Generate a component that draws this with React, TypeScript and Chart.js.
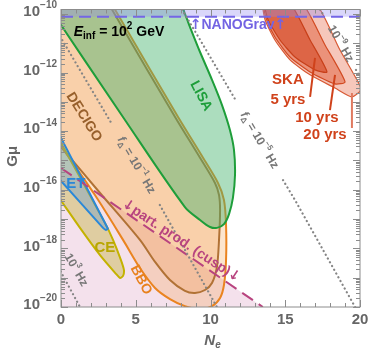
import React, { useEffect, useRef } from 'react';
import { Chart, registerables } from 'chart.js';
Chart.register(...registerables);

// axis ranges (N_e linear, G mu logarithmic, exponents)
const NE_MIN = 0;
const NE_MAX = 20;
const LOG_MIN = -20;
const LOG_MAX = -9.85;
const xTickValues = [0, 5, 10, 15, 20];
const yTickExps = [-20, -18, -16, -14, -12, -10];

// region boundaries: N_e values and log10(G mu) values
const cuspNe = [-1, 13.5, 13.5, -1, -1];
const cuspLogG = [-14.91, -20, -21, -21, -14.91];
const cuspLineNe = [0, 13.5];
const cuspLineLogG = [-15.26, -20];

const decigoNe = [3.01, 3.81, 7.63, 9.3, 10.3, 10.57, 10.64, 10.57, 10.43, 10.1, 9.63, 8.96, 8.29, 7.29, 6.29, 5.28, 2.61, 0, -1, -1, 3.01];
const decigoLogG = [-9.5, -10.2, -13.52, -14.91, -15.77, -16.18, -16.69, -17.71, -18.63, -19.18, -19.42, -19.52, -19.45, -19.08, -18.46, -17.71, -16.11, -14.54, -13.94, -9.5, -9.5];

const bboNe = [3.21, 4.01, 7.83, 9.5, 10.5, 10.9, 11.04, 11.04, 10.9, 10.64, 10.1, 9.3, 8.29, 7.29, 6.29, 5.28, 4.15, 2.27, 0, -1, -1, 3.21];
const bboLogG = [-9.5, -10.2, -13.52, -14.91, -15.77, -16.35, -17.2, -18.4, -19.25, -19.69, -19.97, -20.07, -19.97, -19.73, -19.35, -18.67, -17.71, -16.18, -14.51, -13.77, -9.5, -9.5];

const ceNe = [-1, 0, 2.94, 3.48, 4.01, 4.21, 4.15, 3.95, 3.68, 2.61, 1.27, 0.07, -1, -1];
const ceLogG = [-13.47, -14.4, -17.13, -17.71, -18.4, -18.74, -18.94, -19.01, -18.87, -18.23, -17.3, -16.42, -15.64, -13.47];

const etNe = [-1, 0, 3.08, 3.14, 3.01, 2.81, 0, -1, -1];
const etLogG = [-13.24, -14.23, -17.27, -17.33, -17.37, -17.3, -15.7, -15.13, -13.24];

const lisaNe = [-1.03, 4.28, 8.29, 9.3, 9.97, 10.43, 10.9, 11.24, 11.5, 11.64, 11.57, 11.3, 10.77, 10.1, 9.3, 8.63, 8.29, 7.9, -1.03];
const lisaLogG = [-9.6, -13.62, -16.59, -17.03, -17.27, -17.3, -17.17, -16.83, -16.28, -15.49, -14.64, -13.96, -13.11, -12.25, -11.3, -10.45, -10.0, -9.6, -9.6];

const ska20Ne = [13.4, 16.82, 18.66, 19.87, 20.07, 19.46, 18.33, 16.66, 15.32, 14.31, 13.65, 13.4];
const ska20LogG = [-9.5, -9.5, -11.23, -12.32, -12.59, -12.83, -12.53, -12.08, -11.57, -10.89, -10.2, -9.5];
const ska10Ne = [13.45, 15.93, 17.66, 19.0, 18.33, 16.66, 15.32, 14.31, 13.71, 13.45];
const ska10LogG = [-9.5, -9.5, -11.06, -12.32, -12.39, -11.98, -11.47, -10.79, -10.14, -9.5];
const ska5Ne = [13.5, 15.14, 16.66, 17.79, 16.99, 15.65, 14.65, 13.85, 13.5];
const ska5LogG = [-9.5, -9.5, -10.89, -11.98, -11.91, -11.47, -10.89, -10.2, -9.5];

const ska5PtrNe = [16.99, 16.66];
const ska5PtrLogG = [-11.5, -12.83];
const ska10PtrNe = [18.33, 17.99];
const ska10PtrLogG = [-12.08, -13.28];
const ska20PtrNe = [19.46, 19.46];
const ska20PtrLogG = [-12.7, -13.89];

const nanoNe = [-1, 21, 21, -1, -1];
const nanoLogG = [-10.1, -10.1, -9.5, -9.5, -10.1];
const nanoLineNe = [0, 20];
const nanoLineLogG = [-10.1, -10.1];

// f_Delta contours (NaN = gap for inline label)
const f3Ne = [-0.3, 1.27, 1.45];
const f3LogG = [-18.53, -20, -20.17];
const f1Ne = [-0.5, 0, 3.28, 3.44, NaN, 6.61, 10.43, 10.8];
const f1LogG = [-10.39, -10.82, -13.65, -13.79, NaN, -16.52, -20, -20.34];
const f5Ne = [7.8, 9.23, 11.68, NaN, 14.85, 15.65, 19.67, 20.1];
const f5LogG = [-9.6, -10.82, -12.94, NaN, -15.67, -16.35, -20, -20.4];
const f9Ne = [17.03, 17.59, NaN, 19.73, 20.3];
const f9LogG = [-9.6, -10.07, NaN, -11.91, -12.4];

type Seg = [string, string];
const FONT = '"Liberation Sans", Arial, sans-serif';
const ARROW_FONT = '"DejaVu Sans", sans-serif';

const textLabels: { ne: number; lg: number; ang: number; color: string; size: number; segs: Seg[]; align?: string }[] = [
  { ne: 0.85, lg: -10.62, ang: 0, color: '#000', size: 14, align: 'left', segs: [['E', 'i'], ['inf', 'sub'], [' = 10', 'n'], ['2', 'sup'], [' GeV', 'n']] },
  { ne: 11.84, lg: -10.38, ang: 0, color: '#7363e3', size: 14, segs: [['↑', 'a'], ['NANOGrav', 'n'], ['↑', 'a']] },
  { ne: 9.36, lg: -12.8, ang: 62, color: '#1e9e3a', size: 14, segs: [['LISA', 'n']] },
  { ne: 1.54, lg: -13.52, ang: 58, color: '#98602c', size: 14, segs: [['DECIGO', 'n']] },
  { ne: 1.0, lg: -15.8, ang: 0, color: '#2a88d8', size: 15, segs: [['ET', 'n']] },
  { ne: 2.94, lg: -17.99, ang: 0, color: '#b8a600', size: 15, segs: [['CE', 'n']] },
  { ne: 5.35, lg: -19.08, ang: 62, color: '#e8821e', size: 14, segs: [['BBO', 'n']] },
  { ne: 8.03, lg: -17.75, ang: 33.5, color: '#b8447f', size: 14, segs: [['↓', 'a'], ['part. prod. (cusp)', 'n'], ['↓', 'a']] },
  { ne: 5.03, lg: -15.16, ang: 59.5, color: '#777', size: 12, segs: [['f', 'i'], ['Δ', 'sub'], [' = 10', 'n'], ['−1', 'sup'], [' Hz', 'n']] },
  { ne: 13.27, lg: -14.31, ang: 59.5, color: '#777', size: 12, segs: [['f', 'i'], ['Δ', 'sub'], [' = 10', 'n'], ['−5', 'sup'], [' Hz', 'n']] },
  { ne: 18.7, lg: -11.02, ang: 60, color: '#777', size: 12, segs: [['10', 'n'], ['−9', 'sup'], [' Hz', 'n']] },
  { ne: 1.0, lg: -18.74, ang: 60, color: '#777', size: 12, segs: [['10', 'n'], ['3', 'sup'], [' Hz', 'n']] },
  { ne: 15.18, lg: -12.25, ang: 0, color: '#d0421b', size: 15, segs: [['SKA', 'n']] },
  { ne: 15.18, lg: -12.94, ang: 0, color: '#d0421b', size: 15, segs: [['5 yrs', 'n']] },
  { ne: 17.12, lg: -13.55, ang: 0, color: '#d0421b', size: 15, segs: [['10 yrs', 'n']] },
  { ne: 17.66, lg: -14.13, ang: 0, color: '#d0421b', size: 15, segs: [['20 yrs', 'n']] },
];

function pts(ne: number[], lg: number[]) {
  return ne.map((x, i) =>
    Number.isNaN(x) || Number.isNaN(lg[i]) ? { x: ne[i - 1], y: null } : { x, y: Math.pow(10, lg[i]) }
  );
}

function segFont(kind: string, size: number) {
  if (kind === 'a') return `bold ${size}px ${ARROW_FONT}`;
  const small = kind === 'sup' || kind === 'sub' || kind === 'isub';
  const it = kind === 'i' || kind === 'isub';
  return `${it ? 'italic ' : ''}bold ${small ? Math.round(size * 0.68) : size}px ${FONT}`;
}

function drawRich(ctx: CanvasRenderingContext2D, x: number, y: number, angDeg: number, segs: Seg[], color: string, size: number, align = 'center') {
  ctx.save();
  ctx.translate(x, y);
  ctx.rotate((angDeg * Math.PI) / 180);
  ctx.fillStyle = color;
  ctx.textBaseline = 'middle';
  ctx.textAlign = 'left';
  let w = 0;
  const ws = segs.map(([t, k]) => {
    ctx.font = segFont(k, size);
    const m = ctx.measureText(t).width;
    w += m;
    return m;
  });
  let cx = align === 'center' ? -w / 2 : align === 'right' ? -w : 0;
  segs.forEach(([t, k], i) => {
    ctx.font = segFont(k, size);
    let dy = 0;
    if (k === 'sup') dy = -size * 0.42;
    if (k === 'sub' || k === 'isub') dy = size * 0.3;
    ctx.fillText(t, cx, dy);
    cx += ws[i];
  });
  ctx.restore();
}

const overlay = {
  id: 'overlay',
  afterDatasetsDraw(chart: any) {
    const { ctx, chartArea: a, scales } = chart;
    const xs = scales.x;
    const ys = scales.y;
    ctx.save();
    // frame
    ctx.strokeStyle = '#8c8c8c';
    ctx.lineWidth = 1;
    ctx.strokeRect(a.left, a.top, a.right - a.left, a.bottom - a.top);
    // x ticks
    ctx.beginPath();
    for (let v = NE_MIN; v <= NE_MAX; v++) {
      const px = Math.round(xs.getPixelForValue(v)) + 0.5;
      const len = v % 5 === 0 ? 7 : 4;
      ctx.moveTo(px, a.bottom);
      ctx.lineTo(px, a.bottom - len);
      ctx.moveTo(px, a.top);
      ctx.lineTo(px, a.top + len);
    }
    // y ticks
    for (let e = LOG_MIN; e <= Math.floor(LOG_MAX); e++) {
      for (let k = 1; k <= 9; k++) {
        const val = k * Math.pow(10, e);
        if (Math.log10(val) > LOG_MAX) continue;
        const py = Math.round(ys.getPixelForValue(val)) + 0.5;
        const len = k === 1 ? 7 : 4;
        ctx.moveTo(a.left, py);
        ctx.lineTo(a.left + len, py);
        ctx.moveTo(a.right, py);
        ctx.lineTo(a.right - len, py);
      }
    }
    ctx.stroke();
    ctx.restore();

    // tick labels
    xTickValues.forEach((v) => {
      drawRich(ctx, xs.getPixelForValue(v), a.bottom + 13, 0, [[String(v), 'n']], '#666', 15);
    });
    yTickExps.forEach((e) => {
      const py = ys.getPixelForValue(Math.pow(10, e));
      drawRich(ctx, a.left - 4, py - 2, 0, [['10', 'n'], [`−${Math.abs(e)}`, 'sup']], '#666', 15, 'right');
    });
    // axis titles
    drawRich(ctx, 13, (a.top + a.bottom) / 2 - 2, -90, [['G', 'n'], ['μ', 'n']], '#666', 15);
    drawRich(ctx, (a.left + a.right) / 2 + 2, a.bottom + 34, 0, [['N', 'i'], ['e', 'isub']], '#666', 15);

    // annotations
    textLabels.forEach((l) => {
      const px = xs.getPixelForValue(l.ne);
      const py = ys.getPixelForValue(Math.pow(10, l.lg));
      drawRich(ctx, px, py, l.ang, l.segs, l.color, l.size, l.align || 'center');
    });
  },
};

function region(ne: number[], lg: number[], border: string, fill: string, width = 2, tension = 0.3) {
  return {
    data: pts(ne, lg),
    borderColor: border,
    backgroundColor: fill,
    fill: 'shape',
    borderWidth: width,
    tension,
    pointRadius: 0,
    clip: 0,
  };
}

function curve(ne: number[], lg: number[], color: string, width: number, dash: number[] = [], cap = 'butt') {
  return {
    data: pts(ne, lg),
    borderColor: color,
    backgroundColor: color,
    fill: false,
    borderWidth: width,
    borderDash: dash,
    borderCapStyle: cap,
    tension: 0,
    pointRadius: 0,
    spanGaps: false,
    clip: 0,
  };
}

export default function App() {
  const ref = useRef<HTMLCanvasElement>(null);
  useEffect(() => {
    const c = ref.current;
    if (!c) return;
    const ds: any[] = [
      region(cuspNe, cuspLogG, 'rgba(0,0,0,0)', 'rgba(205,120,170,0.22)', 0, 0),
      region(decigoNe, decigoLogG, '#98602c', 'rgba(242,150,80,0.28)', 2, 0.3),
      region(bboNe, bboLogG, '#ea8420', 'rgba(245,160,80,0.28)', 2, 0.3),
      region(ceNe, ceLogG, '#c4b200', 'rgba(190,170,40,0.38)', 2, 0.25),
      region(etNe, etLogG, '#2a88d8', 'rgba(90,150,210,0.35)', 2, 0.1),
      region(lisaNe, lisaLogG, '#1e9e3a', 'rgba(70,180,110,0.45)', 2, 0.3),
      region(ska20Ne, ska20LogG, '#d85a35', 'rgba(228,95,60,0.35)', 1.2, 0.2),
      region(ska10Ne, ska10LogG, '#d24a22', 'rgba(222,82,45,0.45)', 1.2, 0.2),
      region(ska5Ne, ska5LogG, '#c8401a', 'rgba(212,70,35,0.6)', 1.2, 0.2),
      region(nanoNe, nanoLogG, 'rgba(0,0,0,0)', 'rgba(150,140,240,0.35)', 0, 0),
      curve(cuspLineNe, cuspLineLogG, '#b8447f', 2, [13, 7]),
      curve(nanoLineNe, nanoLineLogG, '#7466e6', 2, [12, 6]),
      curve(f3Ne, f3LogG, '#858585', 2.2, [0.1, 4.2], 'round'),
      curve(f1Ne, f1LogG, '#858585', 2.2, [0.1, 4.2], 'round'),
      curve(f5Ne, f5LogG, '#858585', 2.2, [0.1, 4.2], 'round'),
      curve(f9Ne, f9LogG, '#858585', 2.2, [0.1, 4.2], 'round'),
      curve(ska5PtrNe, ska5PtrLogG, '#d0421b', 2),
      curve(ska10PtrNe, ska10PtrLogG, '#d0421b', 2),
      curve(ska20PtrNe, ska20PtrLogG, '#e07a60', 2),
    ];
    ds.forEach((d, i) => (d.order = ds.length - i));
    const chart = new Chart(c, {
      type: 'line',
      data: { datasets: ds },
      options: {
        animation: false,
        responsive: false,
        devicePixelRatio: 1,
        events: [],
        layout: { padding: { left: 61, right: 10, top: 9.5, bottom: 46 } },
        elements: { line: { capBezierPoints: false } as any, point: { radius: 0 } },
        scales: {
          x: { type: 'linear', min: NE_MIN, max: NE_MAX, display: false },
          y: { type: 'logarithmic', min: Math.pow(10, LOG_MIN), max: Math.pow(10, LOG_MAX), display: false },
        },
        plugins: { legend: { display: false }, tooltip: { enabled: false } },
      } as any,
      plugins: [overlay],
    });
    return () => chart.destroy();
  }, []);
  return (
    <div style={{ position: 'fixed', left: 0, top: 0, width: 370, height: 353, background: '#fff' }}>
      <canvas ref={ref} width={370} height={353} style={{ display: 'block' }} />
    </div>
  );
}
